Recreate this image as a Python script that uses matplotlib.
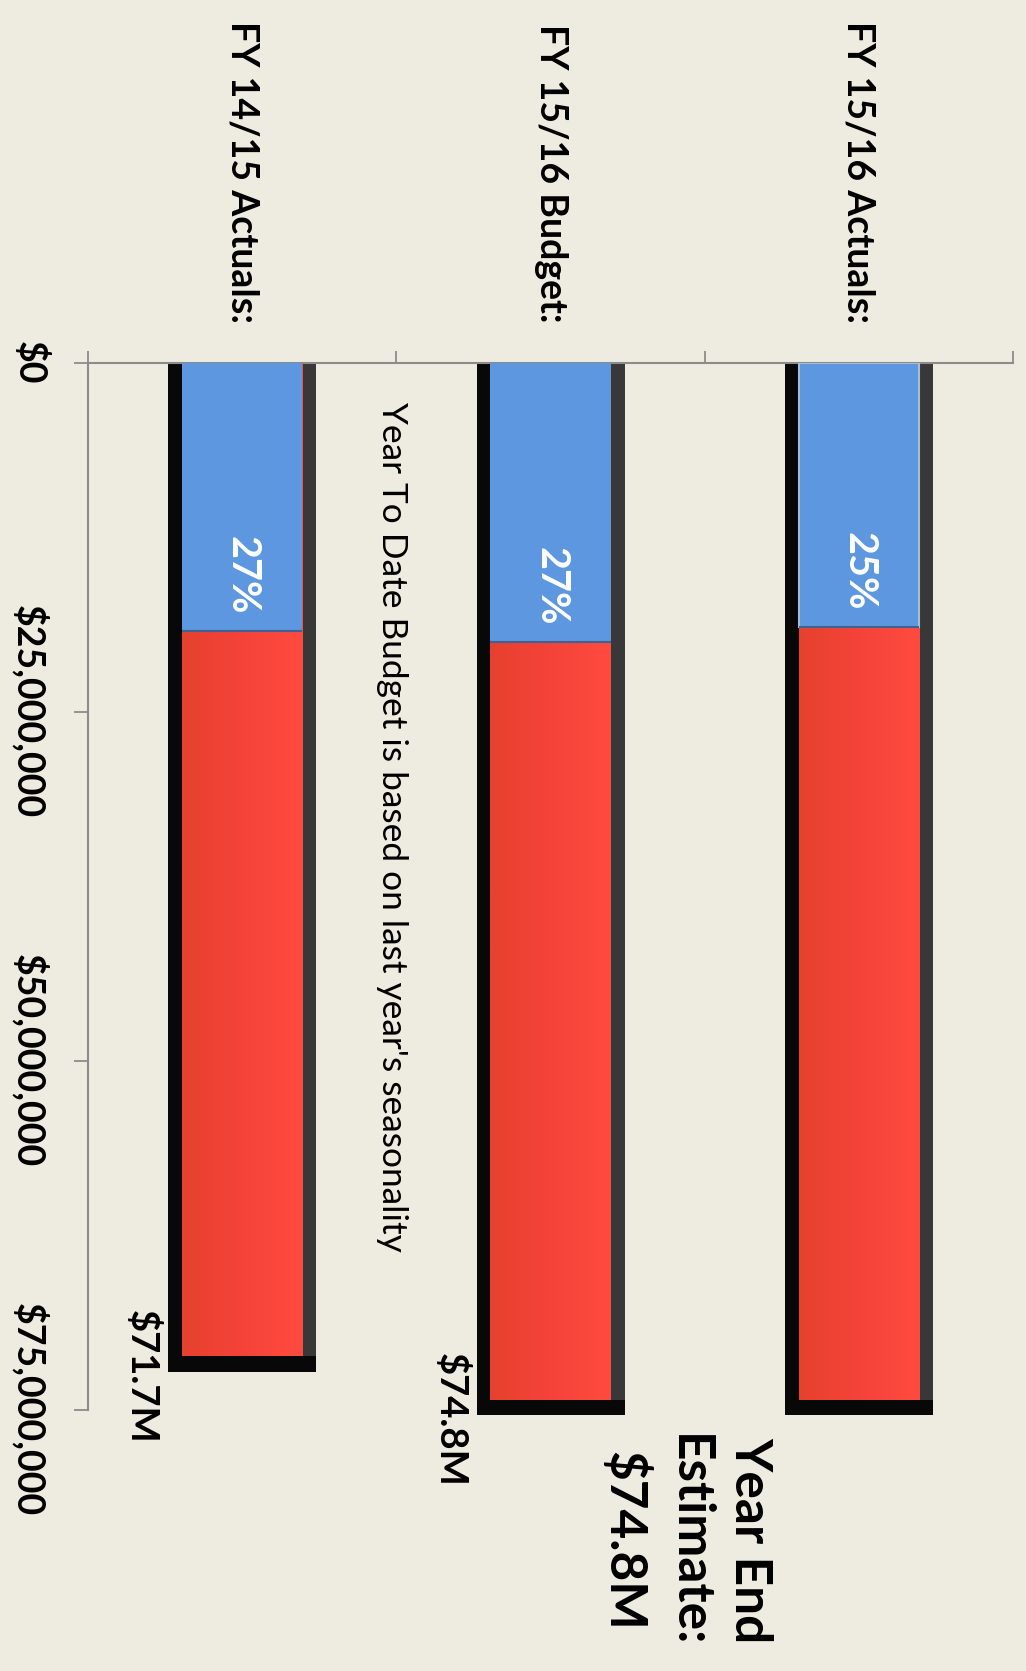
import numpy as np
import matplotlib.pyplot as plt
from matplotlib.colors import LinearSegmentedColormap
from matplotlib.ticker import FuncFormatter

categories = ['FY 14/15 Actuals:', 'FY 15/16 Budget:', 'FY 15/16 Actuals:']
totals = [71.7e6, 74.8e6, 74.8e6]
ytd = [19.2e6, 20.0e6, 18.9e6]
ytd_pct = ['27%', '27%', '25%']
total_labels = ['$71.7M', '$74.8M', '']
yticks = [0, 25e6, 50e6, 75e6]
note = "Year To Date Budget is based on last year's seasonality"
estimate = 'Year End\nEstimate:\n$74.8M'

bg = '#EEEBE0'
plt.rcParams['font.family'] = ['Lato', 'DejaVu Sans']

fig = plt.figure(figsize=(10.26, 16.71), dpi=100, facecolor=bg)
ax = fig.add_axes([0.0858, 0.1562, 0.9016, 0.6266], facecolor=bg)

x = np.arange(len(categories))
tot = np.array(totals)
outer_w, inner_w = 0.48, 0.39
side = (outer_w - inner_w) / 2
pad = 0.55e6  # thickness of the dark frame, in value units

# dark frame round each bar, lighter on the right side
ax.bar(x, tot + pad, width=outer_w, color='#080808', clip_on=False, zorder=2)
ax.bar(x + inner_w / 2 + side / 2, tot - pad, width=side, color='#383838', zorder=2.5)

# red full-year bar with a slight left-to-right shading
reds = ax.bar(x, tot - pad, width=inner_w, color='#F5433A', zorder=3)
red_cmap = LinearSegmentedColormap.from_list('red', ['#E6412E', '#F5433A', '#FF4B3F'])
grad = np.linspace(0, 1, 64).reshape(1, -1)
for r in reds:
    im = ax.imshow(grad, cmap=red_cmap, aspect='auto', zorder=3.5,
                   extent=[r.get_x(), r.get_x() + r.get_width(),
                           r.get_y() + r.get_height(), r.get_y()])
    im.set_clip_path(r)

# blue year-to-date part
blues = ax.bar(x, ytd, width=inner_w, color='#5C97DF', zorder=4)
blues[2].set_edgecolor('#A9BCD4')
blues[2].set_linewidth(1.5)
ax.hlines(ytd, x - inner_w / 2, x + inner_w / 2, color='#3F6290', lw=1.5, zorder=5)

ax.set_xlim(-0.5, 2.5)
ax.set_ylim(75e6, 0)

ax.xaxis.tick_top()
ax.set_xticks([-0.5, 0.5, 1.5, 2.5])
ax.set_xticklabels([])
ax.tick_params(axis='x', direction='out', length=8.6, width=1.3, color='#8C8C8C')

ax.set_yticks(yticks)
ax.yaxis.set_major_formatter(FuncFormatter(lambda v, p: '${:,.0f}'.format(v)))
ax.tick_params(axis='y', direction='out', length=10, width=1.3, color='#8C8C8C',
               pad=19, labelsize=27)
for lbl in ax.get_yticklabels():
    lbl.set_rotation(270)
    lbl.set_fontweight('bold')
    lbl.set_va('center')

for s in ['right', 'bottom']:
    ax.spines[s].set_visible(False)
for s in ['top', 'left']:
    ax.spines[s].set_color('#8C8C8C')
    ax.spines[s].set_linewidth(1.5)

for i, cat in enumerate(categories):
    ax.annotate(cat, xy=(i, 0), xytext=(0, 29), textcoords='offset points',
                rotation=270, ha='center', va='bottom', fontsize=27,
                fontweight='bold', annotation_clip=False)
    ax.annotate(ytd_pct[i], xy=(i, ytd[i]), xytext=(0, 40), textcoords='offset points',
                rotation=270, ha='center', va='center', fontsize=28.5,
                fontweight='bold', color='white', zorder=6)
    if total_labels[i]:
        ax.annotate(total_labels[i], xy=(i, totals[i]), xytext=(-72, -9),
                    textcoords='offset points', rotation=270, ha='center',
                    va='center', fontsize=27.5, fontweight='bold', annotation_clip=False)

ax.annotate(note, xy=(0.5, 0), xytext=(-3, -28), textcoords='offset points',
            rotation=270, ha='center', va='top', fontsize=25.4)

ax.annotate(estimate, xy=(2, totals[2]), xytext=(-124, -96), textcoords='offset points',
            rotation=270, ha='center', va='center', fontsize=37, fontweight='bold',
            linespacing=1.38, multialignment='center', annotation_clip=False)

fig.savefig('out.png', dpi=100, facecolor=bg)
